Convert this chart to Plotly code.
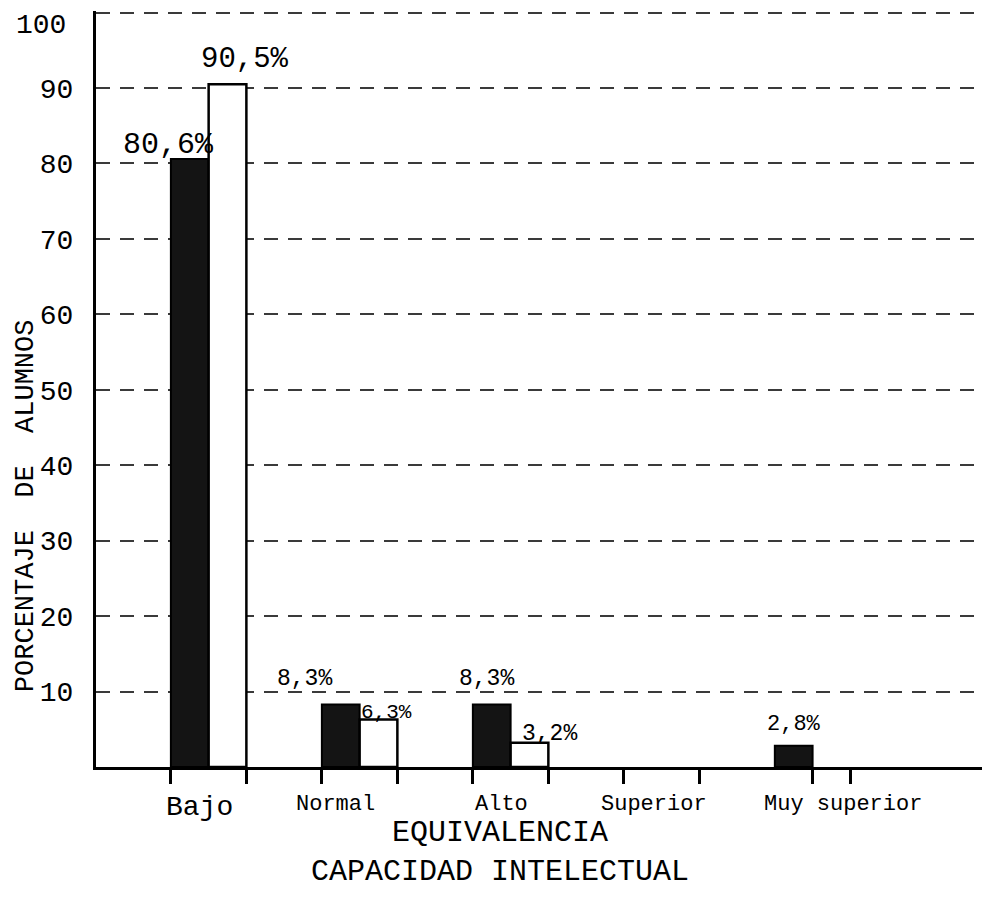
import plotly.graph_objects as go

# ---- data ----
categories = ["Bajo", "Normal", "Alto", "Superior", "Muy superior"]
serie_negra = [80.6, 8.3, 8.3, None, 2.8]     # filled (black) bars
serie_blanca = [90.5, 6.3, 3.2, None, None]   # outlined (white) bars
y_ticks = [10, 20, 30, 40, 50, 60, 70, 80, 90, 100]
x_tick_marks = [-0.25, 0.25, 0.75, 1.25, 1.75, 2.25, 2.75, 3.25, 4.0, 4.25]

FONT = "Liberation Mono"
x_idx = list(range(len(categories)))
y_max_tick = max(y_ticks)

fig = go.Figure()
fig.add_trace(go.Bar(
    x=x_idx, y=serie_negra, name="A",
    marker=dict(color="#141414", line=dict(color="#000000", width=2)),
    hoverinfo="skip",
))
fig.add_trace(go.Bar(
    x=x_idx, y=serie_blanca, name="B",
    marker=dict(color="#ffffff", line=dict(color="#000000", width=2.5)),
    hoverinfo="skip",
))

def fmt(v):
    return f"{v:.1f}".replace(".", ",") + "%"

# label styling (xshift, yshift, font size) per bar
style_negra = [(-21, 14, 30), (-36, 25, 23), (-5, 25, 23), None, (0, 21, 22)]
style_blanca = [(17, 25, 29), (8, 7, 21), (20, 9, 23), None, None]

annotations = []
for vals, styles, off in ((serie_negra, style_negra, -0.125), (serie_blanca, style_blanca, 0.125)):
    for i, (v, st) in enumerate(zip(vals, styles)):
        if v is None or st is None:
            continue
        xs, ys, fs = st
        annotations.append(dict(
            x=i + off, y=v, xref="x", yref="y", text=fmt(v), showarrow=False,
            xanchor="center", yanchor="middle", xshift=xs, yshift=ys,
            font=dict(family=FONT, size=fs, color="#000000"),
        ))

# category labels
cat_style = [(-9, -40, 28), (-24, -37, 22), (-9, -37, 22), (-8, -37, 22), (30, -37, 22)]
for i, (c, st) in enumerate(zip(categories, cat_style)):
    xs, ys, fs = st
    annotations.append(dict(
        x=i, y=0, xref="x", yref="y", text=c, showarrow=False,
        xanchor="center", yanchor="middle", xshift=xs, yshift=ys,
        font=dict(family=FONT, size=fs, color="#000000"),
    ))

# top tick label (placed just below its gridline, as in the original)
annotations.append(dict(
    x=0, y=y_max_tick, xref="paper", yref="y", text=str(y_max_tick), showarrow=False,
    xanchor="right", yanchor="middle", xshift=-28, yshift=-13,
    font=dict(family=FONT, size=28, color="#000000"),
))

# axis titles
annotations.append(dict(
    x=0, y=0.345, xref="paper", yref="paper", xshift=-70,
    text="PORCENTAJE\u00a0\u00a0DE\u00a0\u00a0ALUMNOS", textangle=-90, showarrow=False,
    xanchor="center", yanchor="middle",
    font=dict(family=FONT, size=27, color="#000000"),
))
annotations.append(dict(
    x=0.452, y=0, xref="paper", yref="paper", yshift=-85,
    text="EQUIVALENCIA<br>CAPACIDAD INTELECTUAL", showarrow=False,
    xanchor="center", yanchor="middle", align="center",
    font=dict(family=FONT, size=30, color="#000000"),
))

fig.update_layout(
    width=990, height=912,
    margin=dict(l=88, r=8, t=3, b=153),
    paper_bgcolor="#ffffff", plot_bgcolor="#ffffff",
    barmode="group", bargap=0.5, bargroupgap=0.0,
    showlegend=False,
    annotations=annotations,
    xaxis=dict(
        range=[-0.746, 5.175], tickvals=x_tick_marks, showticklabels=False,
        ticks="outside", ticklen=14, tickwidth=2.5, tickcolor="#000000",
        showline=True, linecolor="#000000", linewidth=2.5,
        showgrid=False, zeroline=False, fixedrange=True, automargin=False,
    ),
    yaxis=dict(
        range=[0, 100.2], tickvals=y_ticks,
        ticktext=["" if t == y_max_tick else str(t) for t in y_ticks],
        tickfont=dict(family=FONT, size=28, color="#000000"),
        ticks="", ticklabelstandoff=14, automargin=False,
        showline=True, linecolor="#000000", linewidth=3,
        showgrid=True, gridcolor="#3a3a3a", gridwidth=1.5, griddash="14px,10px",
        zeroline=False, fixedrange=True,
    ),
)

fig.write_html("out.html")
